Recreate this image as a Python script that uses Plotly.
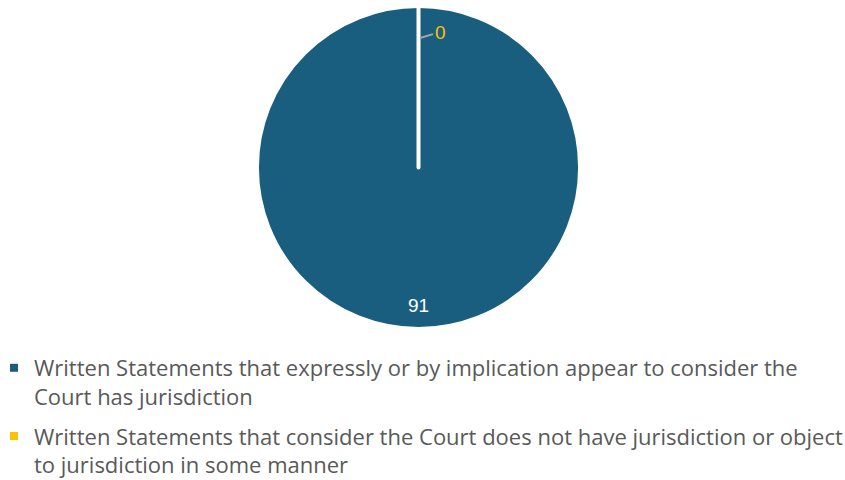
import plotly.graph_objects as go

labels = [
    "Written Statements that expressly or by implication appear to consider the<br>Court has jurisdiction",
    "Written Statements that consider the Court does not have jurisdiction or object<br>to jurisdiction in some manner",
]
values = [91, 0]
colors = ["#1A5E7F", "#FFC000"]

W, H = 845, 480
cx, cy, r = 418.5, 167.5, 161.5
FONT = "Open Sans, DejaVu Sans, Arial"

fig = go.Figure()
fig.add_trace(go.Pie(
    labels=labels,
    values=values,
    sort=False,
    direction="clockwise",
    rotation=0,
    marker=dict(colors=colors, line=dict(color="white", width=4)),
    textinfo="none",
    hoverinfo="label+value",
    domain=dict(x=[(cx - r) / W, (cx + r) / W], y=[(H - cy - r) / H, (H - cy + r) / H]),
    showlegend=False,
))

# legend entries (separate groups so the gap between items can be set)
for i, (lab, col) in enumerate(zip(labels, colors)):
    fig.add_trace(go.Scatter(
        x=[None], y=[None], mode="markers", name=lab,
        marker=dict(symbol="square", size=8, color=col),
        legendgroup=f"g{i}", showlegend=True, hoverinfo="skip",
    ))

# data labels
fig.add_annotation(x=cx / W, y=(H - 305) / H, xref="paper", yref="paper",
                   text=str(values[0]), showarrow=False,
                   font=dict(family="Liberation Sans, Arial", size=19, color="white"))
fig.add_annotation(x=420 / W, y=(H - 38) / H, xref="paper", yref="paper",
                   text=str(values[1]), showarrow=True, arrowhead=0, arrowwidth=2,
                   arrowcolor="#A6A6A6", ax=20, ay=-6, standoff=0,
                   font=dict(family="Liberation Sans, Arial", size=19, color="#FFC000"))

fig.update_layout(
    width=W, height=H,
    margin=dict(l=0, r=0, t=0, b=0, autoexpand=False),
    paper_bgcolor="white", plot_bgcolor="white",
    xaxis=dict(visible=False), yaxis=dict(visible=False),
    legend=dict(
        x=0.0, xanchor="left", y=(H - 347) / H, yanchor="top",
        font=dict(family=FONT, size=22, color="#595959"),
        valign="top", itemwidth=30, tracegroupgap=8, indentation=-6,
    ),
)

fig.write_html("out.html")
